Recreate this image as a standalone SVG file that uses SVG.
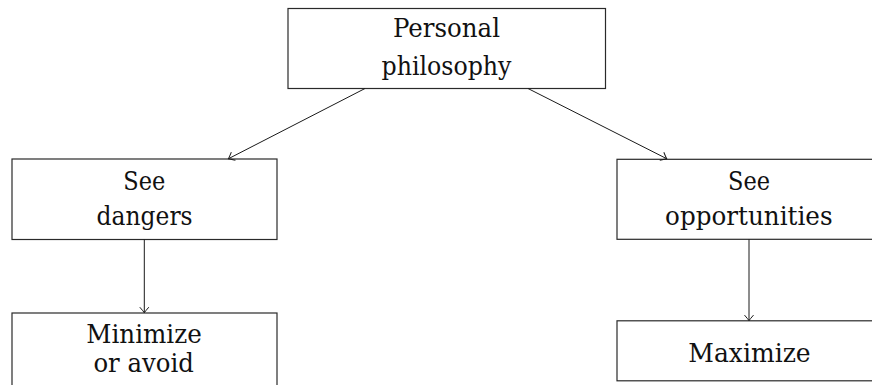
<svg xmlns="http://www.w3.org/2000/svg" width="872" height="385" viewBox="0 0 872 385">
  <style>
    .box { fill: #ffffff; stroke: #2a2a2a; stroke-width: 1.2; }
    .label { font-size: 26px; fill: #111111; text-anchor: middle; }
    .edge { fill: none; stroke: #1a1a1a; stroke-width: 1; marker-end: url(#to); }
  </style>
  <defs>
    <marker id="to" markerUnits="userSpaceOnUse" markerWidth="14" markerHeight="14" viewBox="-8 -7 10 14" refX="0" refY="0" orient="auto">
      <path d="M -5.5 -4.5 Q -1.2 -0.8 0 0 Q -1.2 0.8 -5.5 4.5" fill="none" stroke="#1a1a1a" stroke-width="1"/>
    </marker>
  </defs>

  <!-- node labels: serif face, widths pinned per line -->
  <g font-family="DejaVu Serif, serif">
    <g id="personal-philosophy">
      <rect class="box" x="288" y="8.5" width="317.5" height="80"/>
      <text class="label" x="446.5" y="37" textLength="107" lengthAdjust="spacingAndGlyphs">Personal</text>
      <text class="label" x="446.5" y="75" textLength="130" lengthAdjust="spacingAndGlyphs">philosophy</text>
    </g>

    <g id="see-dangers">
      <rect class="box" x="12" y="159" width="265" height="80.5"/>
      <text class="label" x="144.3" y="190" textLength="42" lengthAdjust="spacingAndGlyphs">See</text>
      <text class="label" x="144.6" y="224.5" textLength="96" lengthAdjust="spacingAndGlyphs">dangers</text>
    </g>

    <g id="see-opportunities">
      <rect class="box" x="617" y="159.3" width="264" height="80"/>
      <text class="label" x="749" y="189.5" textLength="42" lengthAdjust="spacingAndGlyphs">See</text>
      <text class="label" x="748.8" y="225" textLength="167.5" lengthAdjust="spacingAndGlyphs">opportunities</text>
    </g>

    <g id="minimize-or-avoid">
      <rect class="box" x="12" y="313" width="265" height="90"/>
      <text class="label" x="144" y="343" textLength="115.5" lengthAdjust="spacingAndGlyphs">Minimize</text>
      <text class="label" x="143.7" y="372" textLength="100.5" lengthAdjust="spacingAndGlyphs">or avoid</text>
    </g>

    <g id="maximize">
      <rect class="box" x="617" y="320.8" width="264" height="60"/>
      <text class="label" x="749.5" y="361.7" textLength="122.3" lengthAdjust="spacingAndGlyphs">Maximize</text>
    </g>
  </g>

  <g id="connectors">
    <line class="edge" x1="365" y1="88.5" x2="228.5" y2="158.7"/>
    <line class="edge" x1="528" y1="88.5" x2="666.7" y2="158.7"/>
    <line class="edge" x1="144.3" y1="239.5" x2="144.3" y2="312.7"/>
    <line class="edge" x1="749" y1="239.3" x2="749" y2="320.6"/>
  </g>
</svg>
